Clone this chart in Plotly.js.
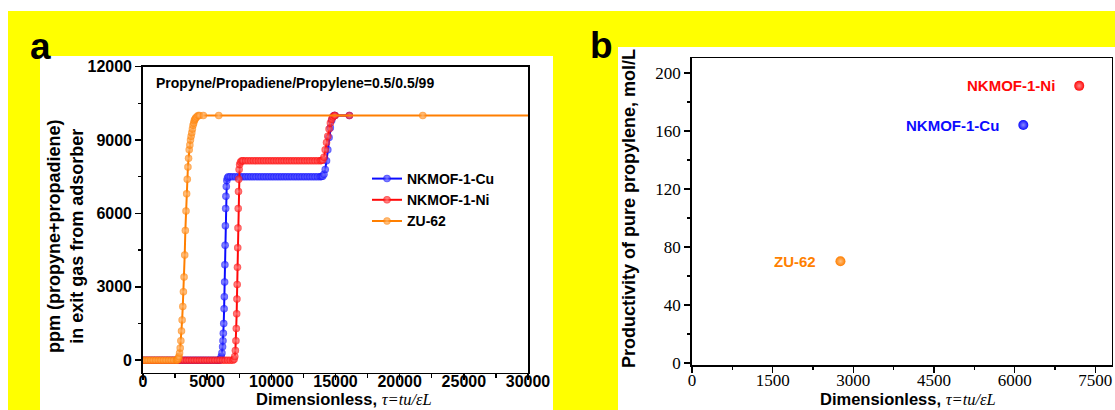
<!DOCTYPE html>
<html>
<head>
<meta charset="utf-8">
<script src="https://cdn.plot.ly/plotly-3.0.1.min.js"></script>
<style>
  html, body { margin: 0; padding: 0; background: #ffffff; }
  #chart { width: 1115px; height: 410px; }
</style>
</head>
<body>
<div id="chart"></div>
<script>
// ---------- (a) breakthrough curves: dimensionless time vs outlet ppm ----------
const sampleNames = ['NKMOF-1-Cu', 'NKMOF-1-Ni', 'ZU-62'];

const cuTau = [
  0,200,400,600,800,1000,1200,1400,1600,1800,2000,2200,2400,2600,2800,3000,
  3200,3400,3600,3800,4000,4200,4400,4600,4800,5000,5200,5400,5600,5800,5900,
  6000,6050,6100,6150,6200,6230,6260,6290,6320,6340,6360,6380,6400,6420,6440,
  6460,6490,6530,6580,6650,
  6800,7000,7200,7400,7600,7800,8000,8200,8400,8600,8800,9000,9200,9400,9600,
  9800,10000,10200,10400,10600,10800,11000,11200,11400,11600,11800,12000,12200,
  12400,12600,12800,13000,13200,13400,13600,13800,13900,
  14000,14100,14200,14300,14400,14500,14600,14700,14800,14900,14960,16080
];
const cuPpm = [
  0,0,0,0,0,0,0,0,0,0,0,0,0,0,0,0,
  0,0,0,0,0,0,0,0,0,0,0,0,0,0,0,
  20,60,150,300,550,800,1100,1500,2100,2600,3200,3900,4700,5500,6200,
  6700,7100,7350,7450,7500,
  7500,7500,7500,7500,7500,7500,7500,7500,7500,7500,7500,7500,7500,7500,7500,
  7500,7500,7500,7500,7500,7500,7500,7500,7500,7500,7500,7500,7500,
  7500,7500,7500,7500,7500,7500,7500,7500,7510,
  7520,7600,7800,8150,8600,9100,9500,9800,9950,10000,10000,10000
];

const niTau = [
  0,200,400,600,800,1000,1200,1400,1600,1800,2000,2200,2400,2600,2800,3000,
  3200,3400,3600,3800,4000,4200,4400,4600,4800,5000,5200,5400,5600,5800,6000,
  6200,6400,6600,6800,7000,7100,
  7150,7200,7240,7270,7300,7320,7340,7360,7380,7400,7420,7440,7460,7490,7530,
  7600,7700,
  7800,8000,8200,8400,8600,8800,9000,9200,9400,9600,9800,10000,10200,10400,
  10600,10800,11000,11200,11400,11600,11800,12000,12200,12400,12600,12800,
  13000,13200,13400,13600,13800,13900,
  14000,14100,14200,14300,14400,14500,14600,14700,14800,14900,14960,16080
];
const niPpm = [
  0,0,0,0,0,0,0,0,0,0,0,0,0,0,0,0,
  0,0,0,0,0,0,0,0,0,0,0,0,0,0,0,
  0,0,0,0,0,40,
  150,400,800,1300,1900,2500,3100,3800,4600,5400,6200,6900,7400,7800,8000,
  8100,8150,
  8150,8150,8150,8150,8150,8150,8150,8150,8150,8150,8150,8150,8150,8150,
  8150,8150,8150,8150,8150,8150,8150,8150,8150,8150,8150,8150,
  8150,8150,8150,8150,8150,8160,
  8180,8300,8600,8900,9150,9450,9700,9850,9950,10000,10000,10000
];

const zuTau = [
  0,200,400,600,800,1000,1200,1400,1600,1800,2000,2200,2400,2600,
  2650,2700,2750,2800,2850,2900,2950,3000,3050,3100,3150,3200,3250,3300,3350,
  3400,3450,3500,3550,3600,3650,3700,3750,3800,3850,3900,3950,4000,4050,4100,
  4200,4300,4400,
  4700,5900,21800,30000
];
const zuPpm = [
  0,0,0,0,0,0,0,0,0,0,0,0,0,0,
  10,30,80,150,300,500,800,1200,1650,2200,2800,3400,4300,5300,6100,
  6800,7400,7900,8250,8600,8800,9000,9150,9300,9450,9600,9700,9800,9850,9900,
  9950,10000,10000,
  10000,10000,10000,10000
];

const feedNote = 'Propyne/Propadiene/Propylene=0.5/0.5/99';

// left panel ticks
const tauTicksA = [0, 5000, 10000, 15000, 20000, 25000, 30000];
const ppmTicks = [0, 3000, 6000, 9000, 12000];

// ---------- (b) productivity of pure propylene ----------
const prodNames = ['NKMOF-1-Ni', 'NKMOF-1-Cu', 'ZU-62'];
const prodTau = [7200, 6160, 2760];
const prodValue = [191, 164, 70];

const tauTicksB = [0, 1500, 3000, 4500, 6000, 7500];
const prodTicks = [0, 40, 80, 120, 160, 200];

// ---------- styling ----------
const W = 1115, H = 410;
const px = v => v / W;           // horizontal pixel -> paper fraction
const py = v => 1 - v / H;       // vertical pixel (from top) -> paper fraction

const SANS = 'Liberation Sans, Arial, sans-serif';
const SERIF = 'Liberation Serif, Times New Roman, serif';
const colorOf = {
  'NKMOF-1-Cu': '#0c0cff',
  'NKMOF-1-Ni': '#ff0808',
  'ZU-62': '#ff7f00'
};
const glossOf = {
  'NKMOF-1-Cu': '#8a8aff',
  'NKMOF-1-Ni': '#ff8a8a',
  'ZU-62': '#ffc080'
};

const curves = [
  [cuTau, cuPpm],
  [niTau, niPpm],
  [zuTau, zuPpm]
];

const MARKER = 7.5;

const traces = curves.map(([t, c], i) => {
  const name = sampleNames[i];
  // the run is drawn up to the right frame; its closing point carries no marker
  const sizes = t.map((v, k) => (k === t.length - 1 && v >= 30000) ? 0 : MARKER);
  return {
    type: 'scatter',
    mode: 'lines+markers',
    name: name,
    x: t,
    y: c,
    xaxis: 'x',
    yaxis: 'y',
    line: { color: colorOf[name], width: 2 },
    marker: {
      size: sizes,
      color: colorOf[name],
      line: { width: 0 },
      gradient: { type: 'radial', color: glossOf[name] }
    },
    cliponaxis: true
  };
});

traces.push({
  type: 'scatter',
  mode: 'markers',
  x: prodTau,
  y: prodValue,
  xaxis: 'x2',
  yaxis: 'y2',
  showlegend: false,
  marker: {
    size: 10,
    color: prodNames.map(n => colorOf[n]),
    line: { width: 0 },
    gradient: { type: 'radial', color: prodNames.map(n => glossOf[n]) }
  }
});

const tickFontA = { family: SANS, size: 16, color: '#000' };
const tickFontB = { family: SERIF, size: 17, color: '#000' };
const bold = v => '<b>' + v + '</b>';

const frame = {
  showline: true, linecolor: '#000', linewidth: 1.8, mirror: true,
  ticks: 'outside', ticklen: 6, tickwidth: 1.6, tickcolor: '#000',
  showgrid: false, zeroline: false, fixedrange: true
};

const tauTitle = '<b>Dimensionless, </b><span style="font-family:' + SERIF +
  ';font-style:italic">τ=tu/εL</span>';

const shapes = [
  // yellow backdrop and the two white panels
  { type: 'rect', xref: 'paper', yref: 'paper', layer: 'below',
    x0: px(8), x1: 1, y0: 0, y1: py(11),
    fillcolor: '#ffff00', line: { width: 0 } },
  { type: 'rect', xref: 'paper', yref: 'paper', layer: 'below',
    x0: px(40), x1: px(553), y0: 0, y1: py(56),
    fillcolor: '#ffffff', line: { width: 0 } },
  { type: 'rect', xref: 'paper', yref: 'paper', layer: 'below',
    x0: px(618), x1: 1, y0: 0, y1: py(47),
    fillcolor: '#ffffff', line: { width: 0 } }
];

const annotations = [
  { text: '<b>a</b>', xref: 'paper', yref: 'paper', x: px(40), y: py(47),
    xanchor: 'center', yanchor: 'middle', showarrow: false,
    font: { family: SANS, size: 37, color: '#000' } },
  { text: '<b>b</b>', xref: 'paper', yref: 'paper', x: px(601), y: py(46),
    xanchor: 'center', yanchor: 'middle', showarrow: false,
    font: { family: SANS, size: 37, color: '#000' } },
  { text: bold(feedNote), xref: 'paper', yref: 'paper', x: px(154), y: py(83),
    xanchor: 'left', yanchor: 'middle', showarrow: false,
    font: { family: SANS, size: 14, color: '#000' } },
  // axis titles
  { text: '<b>ppm (propyne+propadiene)<br>in exit gas from adsorber</b>',
    xref: 'paper', yref: 'paper', x: px(66), y: py(236), textangle: -90,
    xanchor: 'center', yanchor: 'middle', showarrow: false,
    font: { family: SANS, size: 18, color: '#000' } },
  { text: tauTitle, xref: 'paper', yref: 'paper', x: px(344), y: py(399.5),
    xanchor: 'center', yanchor: 'middle', showarrow: false, borderpad: 0,
    font: { family: SANS, size: 16.5, color: '#000' } },
  { text: '<b>Productivity of pure propylene, mol/L</b>',
    xref: 'paper', yref: 'paper', x: px(629), y: py(209), textangle: -90,
    xanchor: 'center', yanchor: 'middle', showarrow: false,
    font: { family: SANS, size: 18, color: '#000' } },
  { text: tauTitle, xref: 'paper', yref: 'paper', x: px(908), y: py(399.5),
    xanchor: 'center', yanchor: 'middle', showarrow: false, borderpad: 0,
    font: { family: SANS, size: 16.5, color: '#000' } }
];

// material labels beside the productivity points
prodNames.forEach((n, i) => {
  annotations.push({
    text: bold(n), xref: 'x2', yref: 'y2', x: prodTau[i], y: prodValue[i],
    xanchor: 'right', yanchor: 'middle', xshift: -22, showarrow: false,
    font: { family: SANS, size: 15, color: colorOf[n] }
  });
});

const layout = {
  width: W, height: H,
  margin: { l: 0, r: 0, t: 0, b: 0 },
  paper_bgcolor: '#ffffff',
  plot_bgcolor: 'rgba(0,0,0,0)',
  showlegend: true,
  legend: {
    x: px(367), y: py(163), xanchor: 'left', yanchor: 'top',
    bgcolor: 'rgba(0,0,0,0)', borderwidth: 0, tracegroupgap: 0,
    font: { family: SANS, size: 14, color: '#000', weight: 'bold' }
  },
  xaxis: Object.assign({}, frame, {
    domain: [px(143), px(528)], range: [0, 30000],
    tickmode: 'array', tickvals: tauTicksA, ticktext: tauTicksA.map(bold),
    tickfont: tickFontA, anchor: 'y', ticklabelstandoff: -13,
    minor: { dtick: 2500, ticks: 'outside', ticklen: 3.5, tickwidth: 1.4, tickcolor: '#000' }
  }),
  yaxis: Object.assign({}, frame, {
    domain: [py(372.5), py(66.6)], range: [-500, 12000],
    tickmode: 'array', tickvals: ppmTicks, ticktext: ppmTicks.map(bold),
    tickfont: tickFontA, anchor: 'x',
    minor: { dtick: 1500, ticks: 'outside', ticklen: 3.5, tickwidth: 1.4, tickcolor: '#000' }
  }),
  xaxis2: Object.assign({}, frame, {
    domain: [px(692), px(1111.5)], range: [0, 7800],
    tickmode: 'array', tickvals: tauTicksB, ticktext: tauTicksB.map(String),
    tickfont: tickFontB, anchor: 'y2', ticklabelstandoff: -7,
    minor: { dtick: 750, ticks: 'outside', ticklen: 3.5, tickwidth: 1.4, tickcolor: '#000' }
  }),
  yaxis2: Object.assign({}, frame, {
    domain: [py(365), py(58.3)], range: [-1.5, 210],
    tickmode: 'array', tickvals: prodTicks, ticktext: prodTicks.map(String),
    tickfont: tickFontB, anchor: 'x2',
    minor: { dtick: 20, ticks: 'outside', ticklen: 3.5, tickwidth: 1.4, tickcolor: '#000' }
  }),
  shapes: shapes,
  annotations: annotations,
  hovermode: false
};

Plotly.newPlot('chart', traces, layout, { staticPlot: true, displayModeBar: false });
</script>
</body>
</html>
